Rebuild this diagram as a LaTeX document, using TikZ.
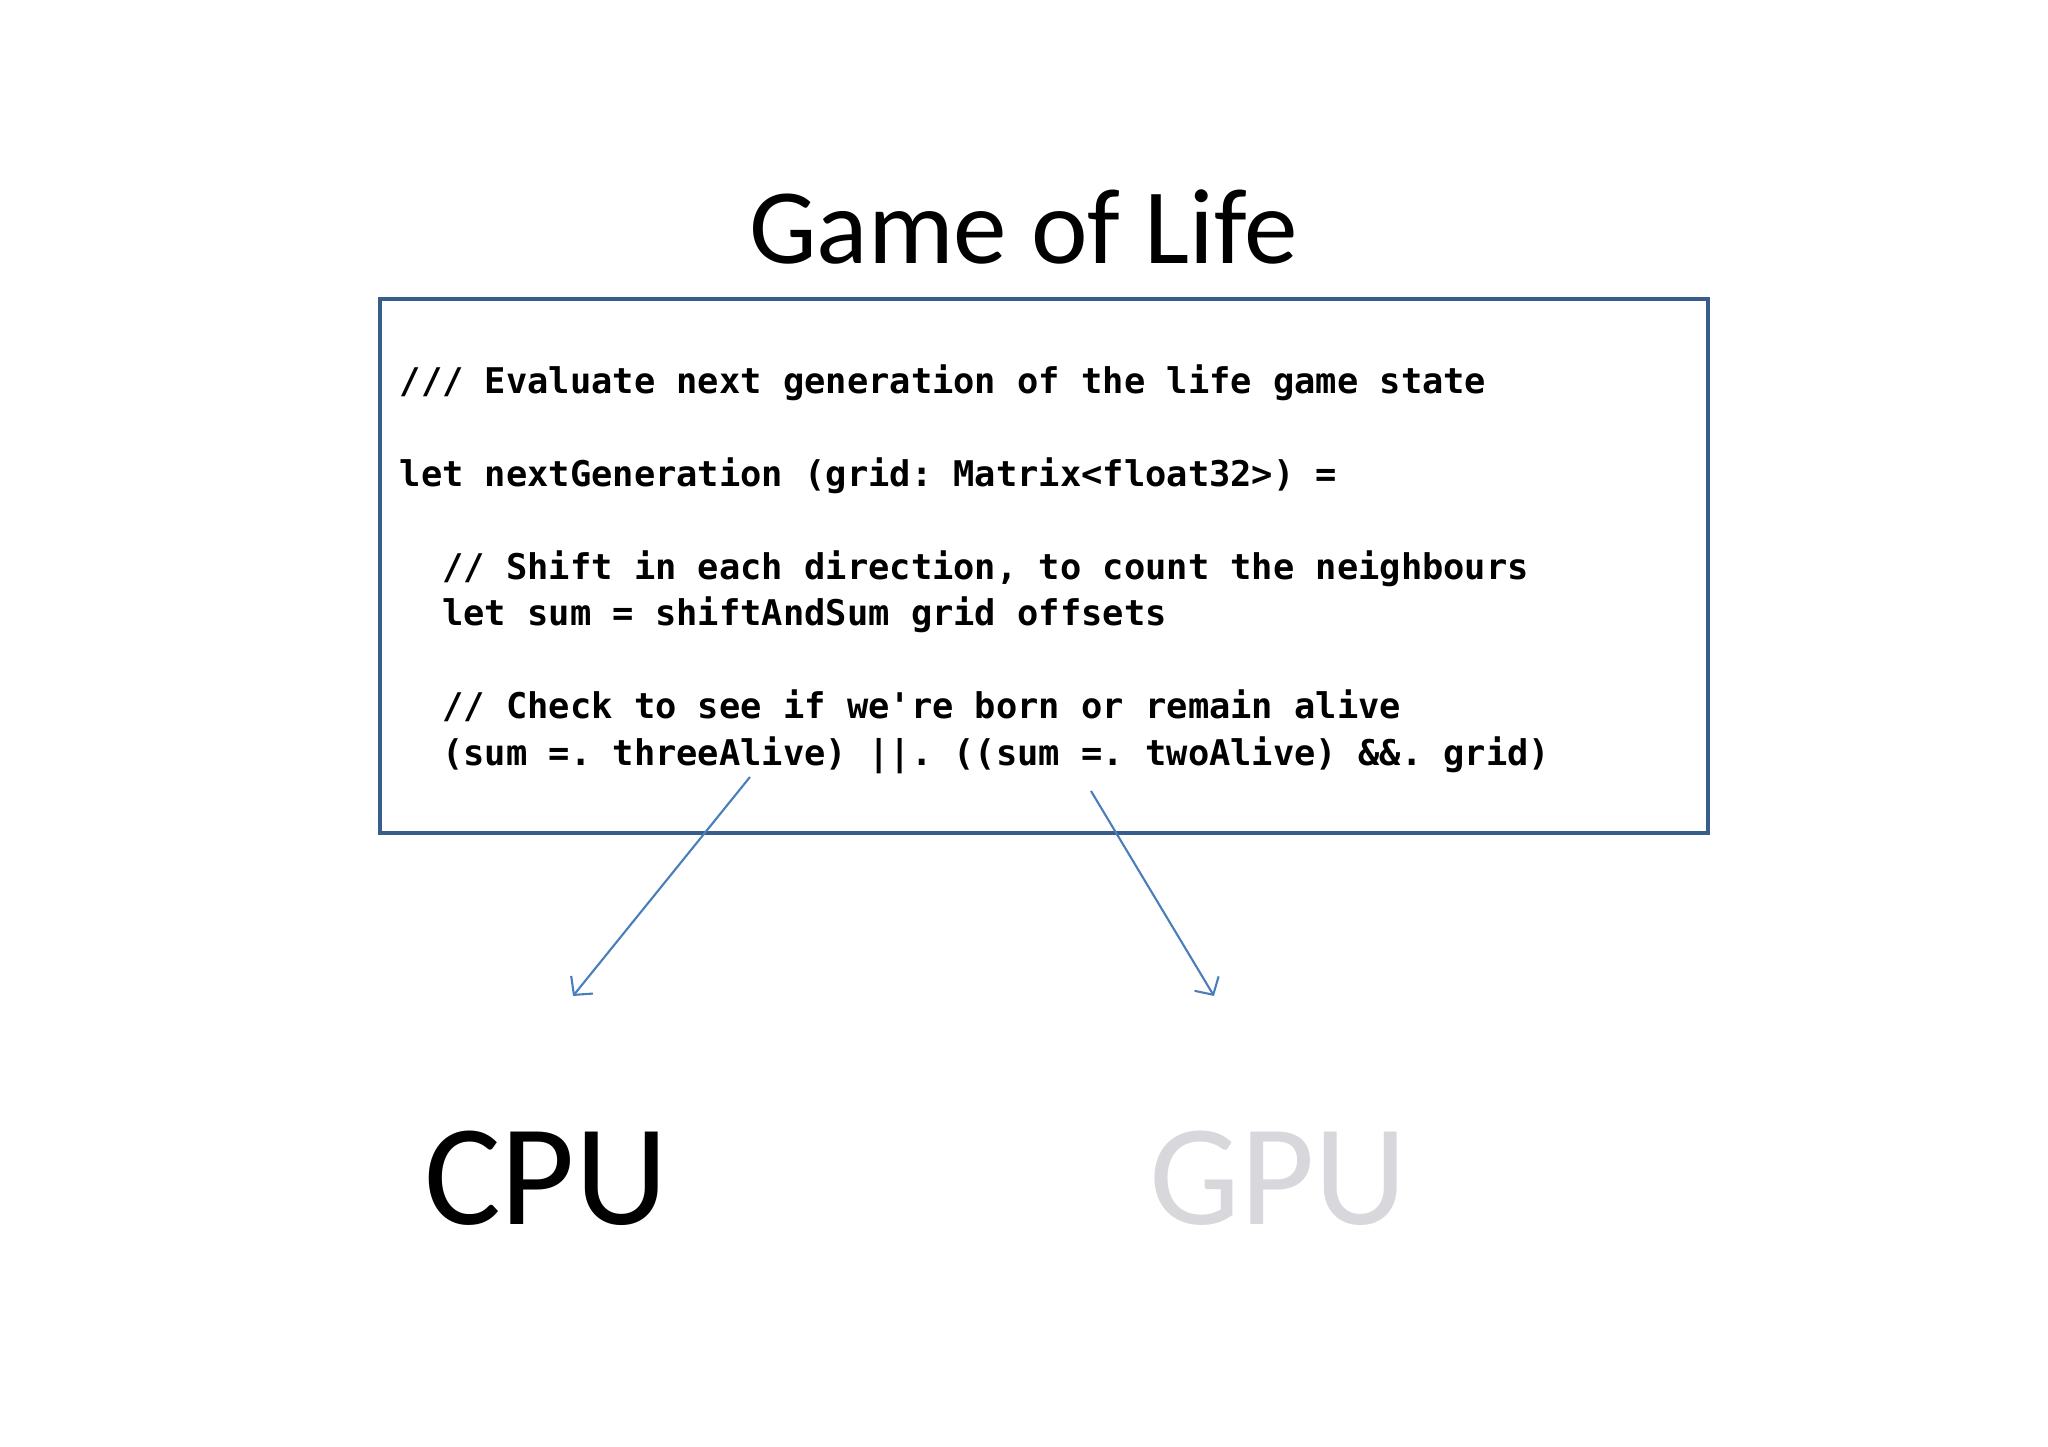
\documentclass[tikz,border=0pt]{standalone}
\usepackage{fontspec}
\setmainfont{Carlito}
\setmonofont{DejaVu Sans Mono}
\usetikzlibrary{arrows.meta}
\definecolor{boxblue}{RGB}{56,93,138}
\definecolor{arrowblue}{RGB}{74,126,187}
\definecolor{gpugray}{RGB}{216,216,220}
\begin{document}
\begin{tikzpicture}[codeline/.style={anchor=base west,inner sep=0pt,font=\ttfamily\bfseries\fontsize{10.07}{12}\selectfont},
	bigword/.style={anchor=base,inner sep=0pt,font=\fontsize{41}{48}\selectfont},
	pointer/.style={arrowblue,line width=0.6pt,-{Straight Barb[length=1.3mm,width=2.8mm]}}]
	\useasboundingbox (0,0) rectangle (20.48,-14.47);
	\node[anchor=base,inner sep=0pt,font=\fontsize{30.5}{36}\selectfont] (title) at (10.235,-2.64) {Game of Life};
	\node[draw=boxblue,line width=1.15pt,minimum width=13.28cm,minimum height=5.34cm] (box) at (10.44,-5.66) {};
	\node[codeline] (l1) at (3.99,-3.94) {/// Evaluate next generation of the life game state};
	\node[codeline] (l2) at (3.99,-4.87) {let nextGeneration (grid: Matrix<float32>) =};
	\node[codeline] (l3) at (4.416,-5.80) {// Shift in each direction, to count the neighbours};
	\node[codeline] (l4) at (4.416,-6.26) {let sum = shiftAndSum grid offsets};
	\node[codeline] (l5) at (4.416,-7.19) {// Check to see if we're born or remain alive};
	\node[codeline] (l6) at (4.416,-7.66) {(sum =. threeAlive) ||. ((sum =. twoAlive) \&\&. grid)};
	\node[bigword] (cpu) at (5.46,-12.25) {CPU};
	\node[bigword,text=gpugray] (gpu) at (12.78,-12.25) {GPU};
	\coordinate (threeAlive) at (7.50,-7.77);
	\coordinate (twoAlive) at (10.91,-7.91);
	\coordinate (cpuIn) at (5.73,-9.96);
	\coordinate (gpuIn) at (12.14,-9.96);
	\draw[pointer] (threeAlive) -- (cpuIn);
	\draw[pointer] (twoAlive) -- (gpuIn);
\end{tikzpicture}
\end{document}
